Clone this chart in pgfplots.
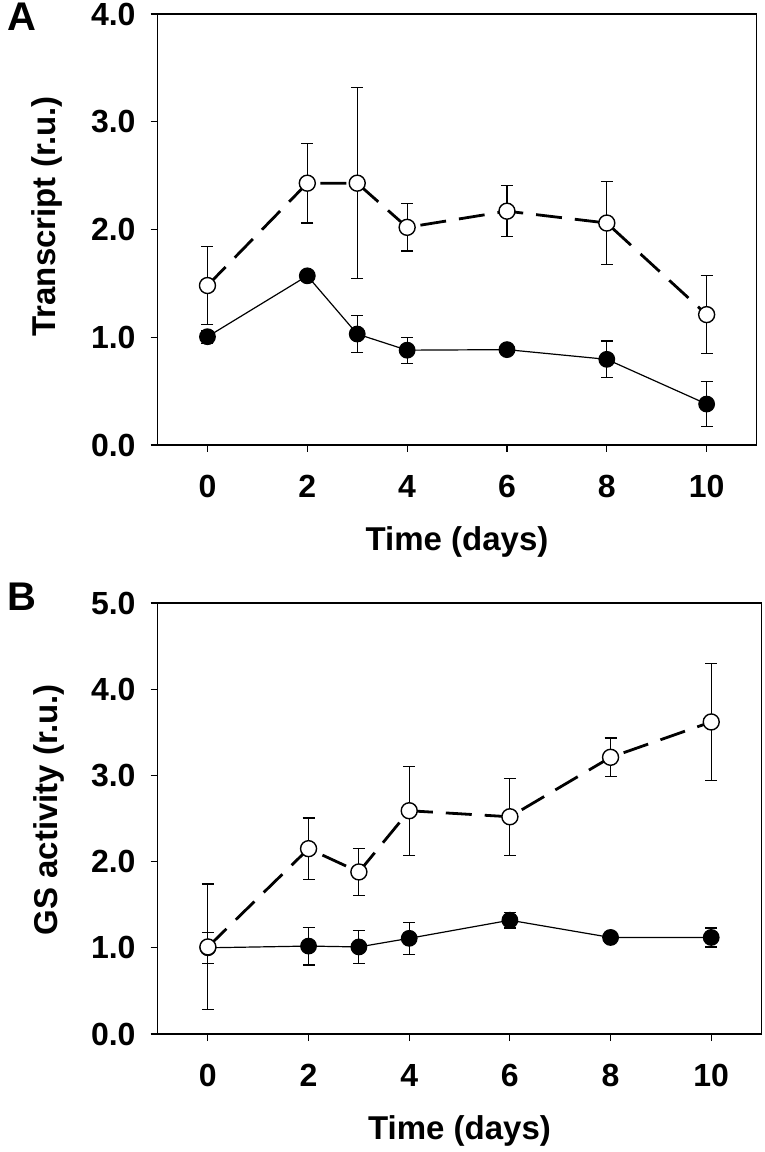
\documentclass[border=0pt]{standalone}
\usepackage{pgfplots}
\pgfplotsset{compat=1.18}
\usepackage{fontspec}
\setmainfont{Liberation Sans}
\begin{document}
\pgfplotsset{
  panel/.style={
    scale only axis,
    width=299.5pt, height=215.5pt,
    xmin=-1, xmax=11,
    xtick={0,2,4,6,8,10},
    axis line style={line width=0.8pt},
    tick style={line width=0.6pt, black},
    tick align=outside,
    xtick pos=left, ytick pos=left,
    major tick length=3.5pt,
    ticklabel style={font=\bfseries\fontsize{16}{19}\selectfont},
    /pgf/number format/assume math mode=true,
    y tick label style={xshift=-4pt},
    x tick label style={yshift=-8pt},
    yticklabel={\pgfmathprintnumber[fixed,fixed zerofill,precision=1]{\tick}},
    label style={font=\bfseries\fontsize{16.5}{19}\selectfont},
    xlabel={Time (days)},
    xlabel style={at={(axis description cs:0.5,-0.225)}, anchor=center},
    clip=false,
  },
  filled/.style={black, line width=0.6pt, mark=*, mark size=3.9pt,
    mark options={solid, fill=black},
    error bars/.cd, y dir=both, y explicit,
    error bar style={line width=0.6pt, solid},
    error mark options={rotate=90, mark size=3pt, line width=0.6pt}},
  open/.style={black, line width=1.4pt, dash pattern=on 13pt off 6.5pt,
    mark=*, mark size=4pt, mark options={solid, fill=white, line width=0.7pt},
    error bars/.cd, y dir=both, y explicit,
    error bar style={line width=0.6pt, solid},
    error mark options={rotate=90, mark size=3pt, line width=0.6pt}},
}
\begin{tikzpicture}
\path[use as bounding box] (0,0) rectangle (379.5pt,576pt);
% Panel A
\begin{axis}[panel,
  at={(76pt,353.5pt)}, anchor=south west,
  ymin=0, ymax=4, ytick={0,1,2,3,4},
  ylabel={Transcript (r.u.)},
  ylabel style={at={(axis description cs:-0.185,0.53)}, anchor=center},
]
\addplot+[filled] coordinates {
  (0,1.005) +- (0,0.06)
  (2,1.57) +- (0,0.03)
  (3,1.03) +- (0,0.17)
  (4,0.88) +- (0,0.12)
  (6,0.885) +- (0,0.04)
  (8,0.795) +- (0,0.17)
  (10,0.38) +- (0,0.21)
};
\addplot+[open] coordinates {
  (0,1.48) +- (0,0.36)
  (2,2.43) +- (0,0.37)
  (3,2.43) +- (0,0.885)
  (4,2.02) +- (0,0.22)
  (6,2.17) +- (0,0.235)
  (8,2.06) +- (0,0.385)
  (10,1.21) +- (0,0.36)
};
\end{axis}
\node[font=\bfseries\fontsize{20}{22}\selectfont] at (8pt,567.5pt) {A};
% Panel B
\begin{axis}[panel,
  at={(76pt,59pt)}, anchor=south west,
  width=302pt,
  ymin=0, ymax=5, ytick={0,1,2,3,4,5},
  ylabel={GS activity (r.u.)},
  ylabel style={at={(axis description cs:-0.18,0.52)}, anchor=center},
]
\addplot+[filled] coordinates {
  (0,1.0) +- (0,0.18)
  (2,1.02) +- (0,0.22)
  (3,1.01) +- (0,0.195)
  (4,1.11) +- (0,0.185)
  (6,1.32) +- (0,0.09)
  (8,1.12) +- (0,0.04)
  (10,1.12) +- (0,0.11)
};
\addplot+[open] coordinates {
  (0,1.01) +- (0,0.73)
  (2,2.15) +- (0,0.355)
  (3,1.88) +- (0,0.27)
  (4,2.59) +- (0,0.515)
  (6,2.52) +- (0,0.445)
  (8,3.21) +- (0,0.225)
  (10,3.62) +- (0,0.68)
};
\end{axis}
\node[font=\bfseries\fontsize{20}{22}\selectfont] at (8pt,277.5pt) {B};
\end{tikzpicture}
\end{document}
